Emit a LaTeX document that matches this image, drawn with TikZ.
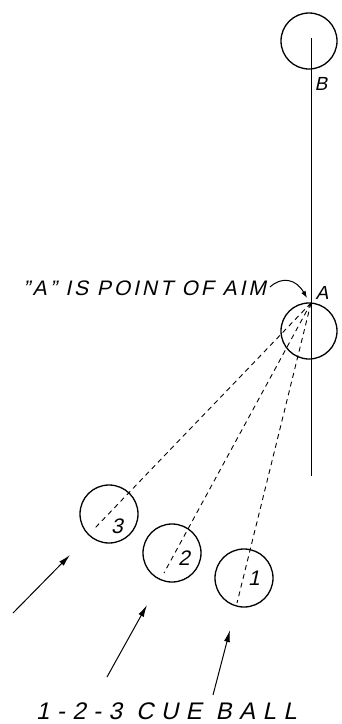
\documentclass[tikz,border=0pt]{standalone}
\usepackage{fontspec}
\setmainfont{Liberation Sans}[FakeSlant=0.22]
\usetikzlibrary{arrows.meta,calc}
\begin{document}
\begin{tikzpicture}[x=1pt,y=-1pt,
  ball/.style={circle,draw,line width=1.3pt,minimum size=58pt,inner sep=0pt},
  aimline/.style={line width=0.9pt,dash pattern=on 5pt off 4pt},
  shot/.style={line width=1pt,-{Latex[length=12pt,width=6pt]}},
  lbl/.style={inner sep=0pt,font=\fontsize{19}{19}\selectfont},
  num/.style={inner sep=0pt,font=\fontsize{21}{21}\selectfont}]
\useasboundingbox (0,0) rectangle (341,724);
% balls
\node[ball,minimum size=56pt] (B) at (309,41) {};
\node[ball,minimum size=56pt] (ballA) at (309,331) {};
\node[ball] (b3) at (109,514) {};
\node[ball] (b2) at (172,553) {};
\node[ball] (b1) at (244,578) {};
% vertical line
\coordinate (top) at (311,38);
\coordinate (bot) at (311,476);
\draw[line width=0.9pt] (top) -- (bot);
\coordinate (A) at (311,303);
% aim lines
\coordinate (e3) at (95,528);
\coordinate (e2) at (164,573);
\coordinate (e1) at (237,603);
\draw[aimline] (A) -- (e3);
\draw[aimline] (A) -- (e2);
\draw[aimline] (A) -- (e1);
% labels
\node[lbl] (labB) at (321,84) {B};
\node[lbl] (labA) at (322,293) {A};
\node[num] (n3) at (117,526) {3};
\node[num] (n2) at (184,558) {2};
\node[num] (n1) at (254,578) {1};
\node[inner sep=0pt,anchor=east,font=\fontsize{21}{21}\selectfont\addfontfeature{LetterSpace=14}] (aim) at (266,288) {"A" IS POINT OF AIM};
\coordinate (c0) at (270,287);
\draw[line width=1pt,-{Latex[length=7pt,width=5pt]}] (c0) .. controls (282,276) and (296,279) .. (307,298);
% cue arrows
\coordinate (t3) at (13,613); \coordinate (h3) at (70,555);
\coordinate (t2) at (107,677); \coordinate (h2) at (147,605);
\coordinate (t1) at (213,695); \coordinate (h1) at (230,630);
\draw[shot] (t3) -- (h3);
\draw[shot] (t2) -- (h2);
\draw[shot] (t1) -- (h1);
\node[inner sep=0pt,anchor=base west,font=\fontsize{24}{24}\selectfont\addfontfeature{LetterSpace=31}] (cue) at (36,719) {1-2-3 CUE BALL};
\end{tikzpicture}
\end{document}
